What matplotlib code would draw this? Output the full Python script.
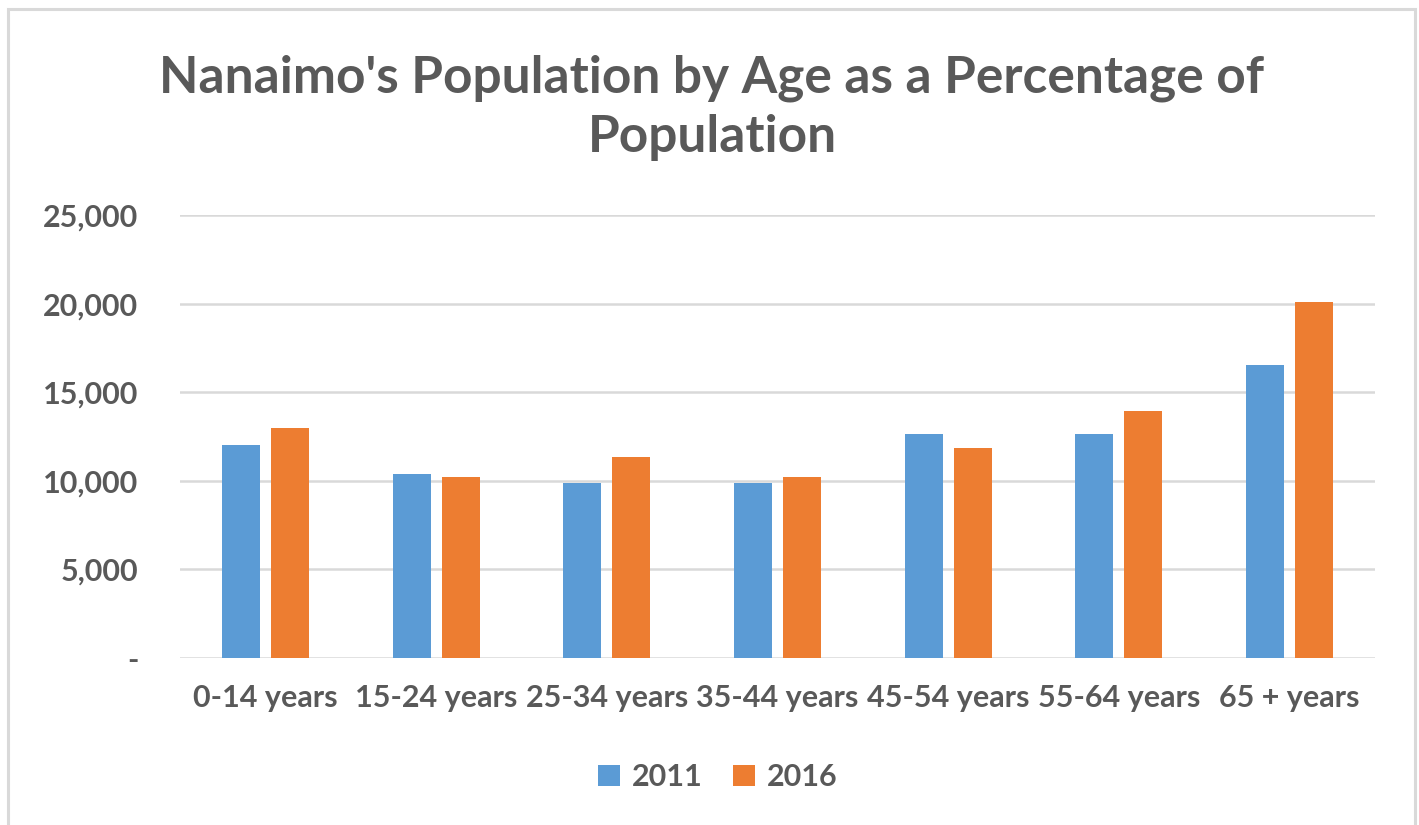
import matplotlib
matplotlib.use("Agg")
import matplotlib.pyplot as plt
import numpy as np
from matplotlib.patches import Rectangle
from matplotlib.ticker import FuncFormatter

categories = ["0-14 years", "15-24 years", "25-34 years", "35-44 years",
              "45-54 years", "55-64 years", "65 + years"]
pop_2011 = [12000, 10380, 9890, 9890, 12650, 12650, 16530]
pop_2016 = [12970, 10210, 11350, 10210, 11840, 13930, 20090]
series_names = ["2011", "2016"]
y_ticks = [0, 5000, 10000, 15000, 20000, 25000]

BLUE = "#5B9BD5"
ORANGE = "#ED7D31"
TEXT = "#595959"
GRID = "#D9D9D9"

plt.rcParams["font.family"] = ["Lato", "DejaVu Sans"]
plt.rcParams["font.weight"] = "bold"

W, H = 1419, 825
fig = plt.figure(figsize=(W / 100, H / 100), dpi=100)
fig.patch.set_facecolor("white")

# chart border
fig.patches.append(Rectangle((8 / W, -0.01), (1415 - 8) / W, (H - 9) / H + 0.01,
                             transform=fig.transFigure, fill=False,
                             edgecolor=GRID, linewidth=2.2))

ax = fig.add_axes([180 / W, 1 - 658 / H, (1375 - 180) / W, (658 - 215) / H])
x = np.arange(len(categories))
bw = 0.2226
off = 0.1435
ax.bar(x - off, pop_2011, width=bw, color=BLUE, label=series_names[0], zorder=3)
ax.bar(x + off, pop_2016, width=bw, color=ORANGE, label=series_names[1], zorder=3)

ax.set_xlim(-0.5, len(categories) - 0.5)
ax.set_ylim(0, 25000)
ax.set_yticks(y_ticks)
ax.yaxis.set_major_formatter(FuncFormatter(lambda v, p: "-" if v == 0 else f"{int(v):,}"))
ax.set_xticks(x)
ax.set_xticklabels(categories)
ax.grid(axis="y", color=GRID, linewidth=1.8, zorder=0)
for s in ax.spines.values():
    s.set_visible(False)
ax.tick_params(axis="both", length=0, labelcolor=TEXT, labelsize=22)
ax.tick_params(axis="y", pad=30)
ax.tick_params(axis="x", pad=19)

fig.text(712 / W, 1 - 108 / H,
         "Nanaimo's Population by Age as a Percentage of\nPopulation",
         ha="center", va="center", fontsize=37, color=TEXT, fontweight="bold",
         linespacing=1.32)

fig.legend(loc="center", bbox_to_anchor=(718 / W, 1 - 777 / H), ncol=2,
           frameon=False, fontsize=22, labelcolor=TEXT,
           handlelength=0.7, handleheight=0.7, handletextpad=0.4,
           columnspacing=1.0)

fig.savefig("out.png", dpi=100, facecolor="white")
